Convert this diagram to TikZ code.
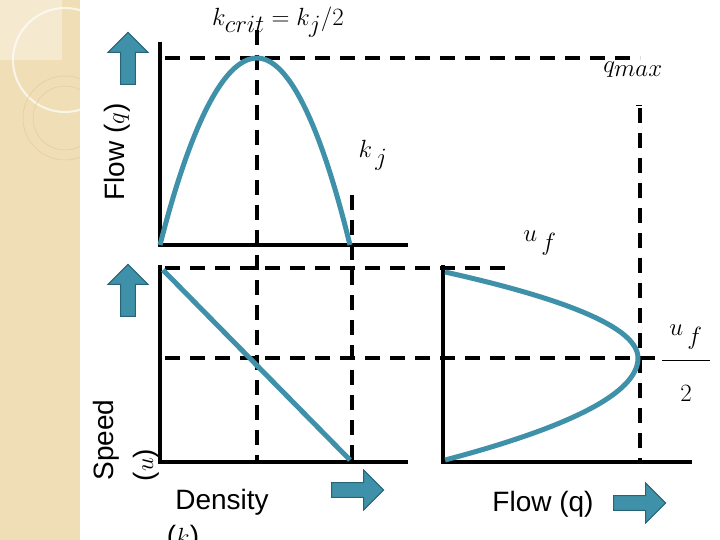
\documentclass[tikz,border=0pt]{standalone}
\usepackage{fontspec}
\setsansfont{Liberation Sans}
\usetikzlibrary{shapes.arrows}
\definecolor{teal}{RGB}{62,145,168}
\definecolor{tealdark}{RGB}{40,100,120}
\definecolor{beige}{RGB}{240,222,182}
\tikzset{ax/.style={line width=4pt},
 dsh/.style={line width=4pt,dash pattern=on 15pt off 10pt},
 crv/.style={teal,line width=5pt},
 blk/.style={single arrow,fill=teal,draw=tealdark,line width=1pt,minimum height=52pt,minimum width=40pt,single arrow head extend=6pt,inner sep=3pt},
 lab/.style={font=\sffamily\fontsize{28}{30}\selectfont,inner sep=0pt},
 mth/.style={font=\fontsize{36}{40}\selectfont,inner sep=0pt}}
\begin{document}
\begin{tikzpicture}[x=1pt,y=-1pt]
\useasboundingbox (0,0) rectangle (720,540);
\fill[white] (0,0) rectangle (720,540);
\fill[beige] (0,0) rectangle (80,540);
\begin{scope}
\clip (0,0) rectangle (80,540);
\fill[white,opacity=0.35] (0,0) rectangle (62,60);
\draw[white,opacity=0.7,line width=2pt] (65,60) circle (52);
\draw[beige!80!brown,line width=0.5pt] (65,118) circle (42);
\draw[beige!80!brown,line width=0.5pt] (65,118) circle (32);
\end{scope}
% dashed guides
\draw[dsh] (165,58) -- (640,58);
\draw[dsh] (257,30) -- (257,460);
\draw[dsh] (352,195) -- (352,460);
\draw[dsh] (640,108) -- (640,460);
\draw[dsh] (165,268) -- (512,268);
\draw[dsh] (165,358) -- (660,358);
\draw[line width=1pt] (636,106) -- (642,106);
\draw[line width=1pt] (662,360) -- (710,360);
% axes
\draw[ax] (160,42) -- (160,245) -- (408,245);
\draw[ax] (160,265) -- (160,462) -- (408,462);
\draw[ax] (443,265) -- (443,462) -- (692,462);
% curves
\draw[crv] (160,245) parabola bend (257,58) (350,245);
\draw[crv] (163,270) -- (350,460);
\draw[crv,domain=272:358,samples=40,variable=\y] plot ({638-193/7396*(\y-358)*(\y-358)},\y);
\draw[crv,domain=358:460,samples=40,variable=\y] plot ({638-193/10404*(\y-358)*(\y-358)},\y);
% block arrows
\node[blk,rotate=90] (a1) at (128,62) {};
\node[blk,rotate=90] (a2) at (128,294) {};
\node[blk] (a3) at (354,490) {};
\node[blk] (a4) at (636,503) {};
% labels
\node[lab,rotate=90] (fq) at (117,152) {Flow ($q$)};
\node[lab,rotate=90] (sp) at (106,440) {Speed};
\node[lab,rotate=90] (u) at (146,465) {($u$)};
\node[lab] (den) at (222,502) {Density};
\node[lab] (kk) at (183,538) {($k$)};
\node[lab] (fq2) at (543,504) {Flow (q)};
\node[mth] (kc) at (278,22) {$k_{crit}=k_j\big/2$};
\node[mth] (qm) at (633,70) {$q_{max}$};
\node[mth] (kj) at (373,155) {$k_{\,j}$};
\node[mth] (uf) at (540,243) {$u_{\,f}$};
\node[mth] (ufa) at (686,337) {$u_{\,f}$};
\node[mth] (two) at (686,393) {$2$};
\end{tikzpicture}
\end{document}
